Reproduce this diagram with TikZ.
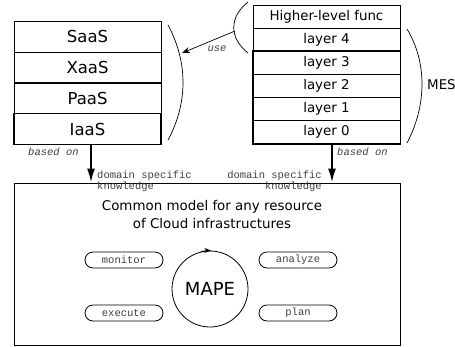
\documentclass[tikz,border=0pt]{standalone}
\usepackage{fontspec}
\setmainfont{DejaVu Sans}
\setmonofont{Liberation Mono}
\usetikzlibrary{arrows.meta}
\begin{document}
\begin{tikzpicture}[x=1pt,y=-1pt,
  row/.style={draw, line width=0.8pt, minimum width=147pt, inner sep=0pt, anchor=center},
  cloudrow/.style={row, minimum height=31pt, font=\fontsize{16.5}{18}\selectfont},
  layerrow/.style={row, minimum height=23pt, font=\fontsize{13.4}{15}\selectfont},
  heavy/.style={line width=1.7pt},
  bigarrow/.style={line width=2pt, -{Latex[length=14pt,width=8pt]}},
  ttnote/.style={font=\fontsize{10.5}{11}\selectfont\ttfamily, text=black!75, inner sep=0pt},
  ttslant/.style={ttnote, font=\fontsize{10.5}{11}\selectfont\ttfamily\itshape},
  phase/.style={draw, line width=0.8pt, rounded corners=8pt, minimum width=78pt, minimum height=16pt, inner sep=0pt, font=\fontsize{10.5}{11}\selectfont\ttfamily, text=black!75},
  brace/.style={line width=0.7pt}
]
\useasboundingbox (0,0) rectangle (455,346);

% cloud service stack
\node[cloudrow] (saas) at (87.5,36.5) {SaaS};
\node[cloudrow] (xaas) at (87.5,67.5) {XaaS};
\node[cloudrow] (paas) at (87.5,98) {PaaS};
\node[cloudrow, heavy] (iaas) at (87.5,129) {IaaS};

% layered stack
\node[layerrow] (hlf) at (326.5,17) {Higher-level func};
\node[layerrow] (l4) at (326.5,40) {layer 4};
\node[layerrow] (l3) at (326.5,63) {layer 3};
\node[layerrow] (l2) at (326.5,86) {layer 2};
\node[layerrow] (l1) at (326.5,109) {layer 1};
\node[layerrow] (l0) at (326.5,132) {layer 0};
\draw[heavy] (l3.north west) rectangle (l0.south east);

% common model box
\node[draw, line width=0.8pt, minimum width=386pt, minimum height=162pt, inner sep=0pt] (cm) at (207,264) {};
\node[align=center, font=\fontsize{13.4}{18}\selectfont] (title) at (212,214) {Common model for any resource\\of Cloud infrastructures};

% MAPE loop
\node[draw, circle, line width=0.8pt, minimum size=76pt, inner sep=0pt, font=\fontsize{18}{20}\selectfont] (mape) at (210,289) {MAPE};
\draw[line width=0.8pt, -{Stealth[length=7pt,width=5pt]}] (mape.104) arc[start angle=104, end angle=88, radius=38pt];

\node[phase] (monitor) at (124,260) {monitor};
\node[phase] (execute) at (124,313) {execute};
\node[phase] (analyze) at (298,260) {analyze};
\node[phase] (plan) at (298,313) {plan};

% braces beside the stacks
\coordinate (ba) at (168,25);
\coordinate (bb) at (168,140);
\draw[brace] (ba) .. controls (188,62) and (188,103) .. (bb);
\coordinate (ca) at (248,2);
\coordinate (cb) at (248,53);
\draw[brace] (ca) .. controls (229,17) and (229,38) .. (cb);
\coordinate (da) at (407,29);
\coordinate (db) at (407,143);
\draw[brace] (da) .. controls (427,62) and (427,105) .. (db);

% use relation
\coordinate (usefrom) at (235,31);
\coordinate (useto) at (182,53);
\draw[line width=0.7pt, -{Stealth[length=8pt,width=6pt]}] (usefrom) -- (useto);
\node[ttslant] (use) at (217,49) {use};

\node[anchor=west, inner sep=0pt, font=\fontsize{13.4}{15}\selectfont] (mes) at (427,85) {MES};

% based-on arrows
\draw[bigarrow] ([xshift=3.5pt]iaas.south) -- ([xshift=3.5pt]iaas.south |- cm.north);
\draw[bigarrow] ([xshift=5.5pt]l0.south) -- ([xshift=5.5pt]l0.south |- cm.north);
\node[ttslant, anchor=west] (bon1) at (28,152) {based on};
\node[ttslant, anchor=west] (bon2) at (337,152) {based on};

% knowledge notes
\node[ttnote, anchor=north west, align=left] (dk1) at (97,171) {domain specific\\knowledge};
\node[ttnote, anchor=north east, align=right] (dk2) at (322,171) {domain specific\\knowledge};
\end{tikzpicture}
\end{document}
